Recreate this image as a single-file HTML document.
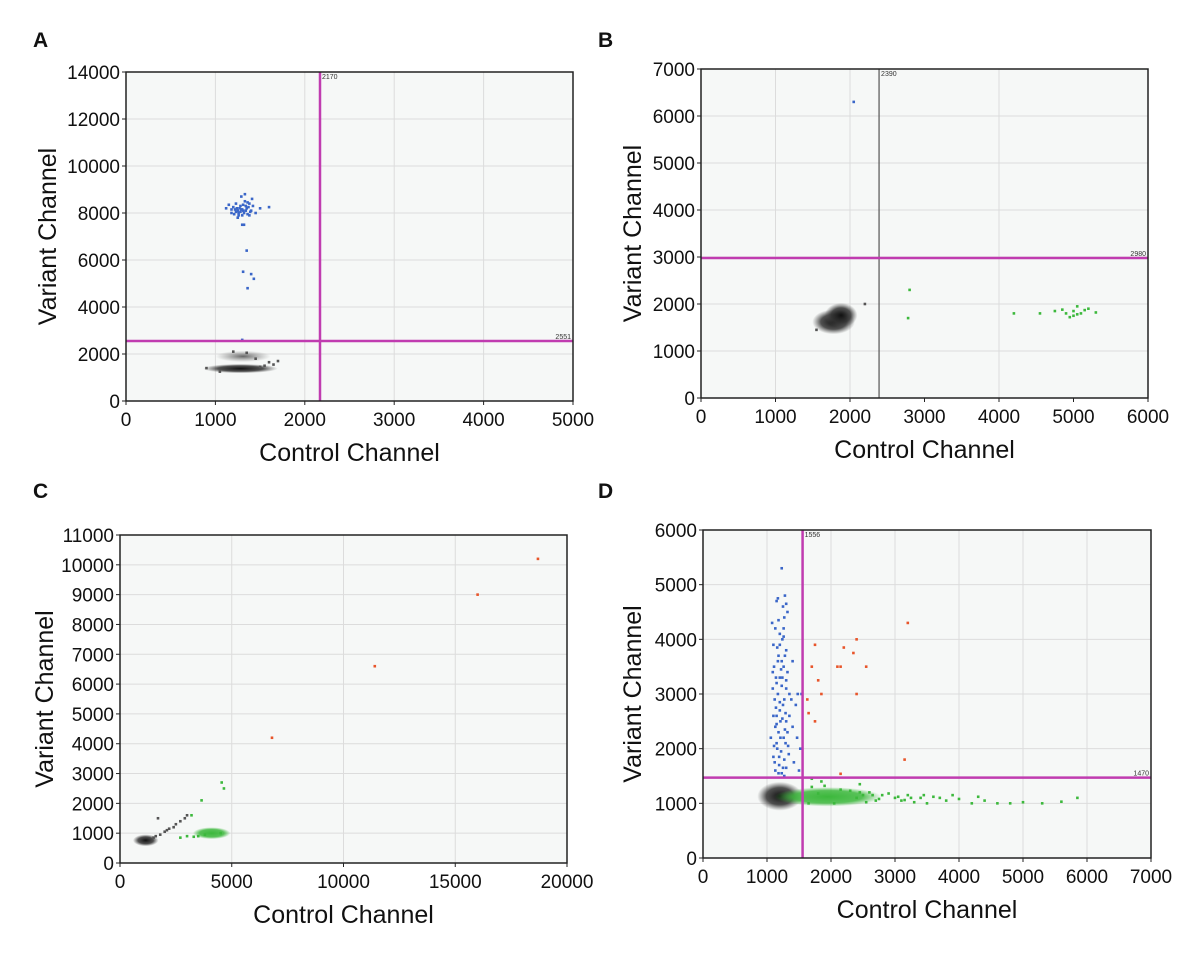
<!DOCTYPE html>
<html><head><meta charset="utf-8"><style>
html,body{margin:0;padding:0;background:#fff;}
svg{display:block;font-family:"Liberation Sans",sans-serif;}
</style></head><body>
<svg id="fig" width="1200" height="954" viewBox="0 0 1200 954">
<defs>
<radialGradient id="g-gray"><stop offset="0" stop-color="#111" stop-opacity="1"/><stop offset="0.6" stop-color="#333" stop-opacity="0.85"/><stop offset="1" stop-color="#555" stop-opacity="0"/></radialGradient>
<radialGradient id="g-lgray"><stop offset="0" stop-color="#555" stop-opacity="0.9"/><stop offset="1" stop-color="#777" stop-opacity="0"/></radialGradient>
<radialGradient id="g-green"><stop offset="0" stop-color="#3cb83c" stop-opacity="1"/><stop offset="0.65" stop-color="#3cb83c" stop-opacity="0.85"/><stop offset="1" stop-color="#3cb83c" stop-opacity="0"/></radialGradient>
</defs>
</svg>
<script>
// ---- Panel A data ----
const aXTicks=[0,1000,2000,3000,4000,5000];
const aYTicks=[0,2000,4000,6000,8000,10000,12000,14000];
const aThreshX=2170, aThreshY=2551;
const aBlue=[[1300,8150],[1250,8100],[1350,8200],[1280,8300],[1320,8000],[1200,8250],[1400,8100],[1150,8350],[1380,8400],[1260,7900],[1330,8500],[1290,8700],[1420,8300],[1230,8050],[1360,7950],[1310,8350],[1270,8200],[1340,8100],[1450,8000],[1500,8200],[1600,8250],[1120,8200],[1180,8000],[1250,7800],[1300,7500],[1320,7500],[1380,7900],[1410,8600],[1330,8800],[1230,8400],[1350,6400],[1310,5500],[1400,5400],[1430,5200],[1360,4800],[1290,8150],[1370,8250],[1240,8200],[1310,8100],[1280,8050],[1300,2600],[1220,8150],[1340,8300],[1260,8000],[1390,8050],[1300,7900],[1210,7950],[1360,8450],[1180,8150]];
const aBlobs=[[1280,1380,190,90,'g-gray'],[1310,1900,140,110,'g-lgray']];
const aGray=[[1550,1500],[1600,1650],[1700,1700],[1650,1550],[1500,1450],[900,1400],[1050,1250],[1450,1800],[1200,2100],[1350,2050]];
// ---- Panel B data ----
const bXTicks=[0,1000,2000,3000,4000,5000,6000];
const bXGrid=[1000,2000,4000];
const bYTicks=[0,1000,2000,3000,4000,5000,6000,7000];
const bThreshX=2390, bThreshY=2980;
const bBlobs=[[1780,1620,130,120,'g-gray'],[1880,1760,100,120,'g-gray']];
const bGreen=[[2800,2300],[2780,1700],[4200,1800],[4550,1800],[4750,1850],[4850,1880],[4900,1800],[5000,1850],[5050,1950],[5000,1750],[5100,1800],[5150,1870],[5200,1900],[5300,1820],[4950,1720],[5050,1780]];
const bBlue=[[2050,6300]];
const bGray=[[2200,2000],[1550,1450]];
// ---- Panel C data ----
const cXTicks=[0,5000,10000,15000,20000];
const cYTicks=[0,1000,2000,3000,4000,5000,6000,7000,8000,9000,10000,11000];
const cBlobs=[[1150,760,260,90,'g-gray'],[4100,1000,380,90,'g-green']];
const cGray=[[1500,850],[1800,950],[2000,1050],[2200,1150],[2500,1300],[2700,1400],[2900,1500],[1700,1500],[3000,1600],[2400,1200],[1600,900],[2100,1100]];
const cGreen=[[2700,850],[3000,900],[3300,880],[3500,900],[3200,1600],[3650,2100],[4550,2700],[4650,2500],[3800,950],[4500,1000]];
const cOrange=[[6800,4200],[11400,6600],[16000,9000],[18700,10200]];
// ---- Panel D data ----
const dXTicks=[0,1000,2000,3000,4000,5000,6000,7000];
const dYTicks=[0,1000,2000,3000,4000,5000,6000];
const dThreshX=1556, dThreshY=1470;
const dBlobs=[[1200,1130,160,120,'g-gray'],[1950,1120,380,80,'g-green']];
const dBlue=[[1230,5300],[1150,4700],[1170,4750],[1280,4800],[1320,4500],[1250,4600],[1270,4400],[1080,4300],[1130,4200],[1200,4100],[1100,3900],[1240,4000],[1300,3800],[1400,3600],[1180,3700],[1260,3500],[1090,3400],[1200,3300],[1150,3200],[1300,3100],[1350,3000],[1120,2900],[1250,2800],[1200,2700],[1100,2600],[1300,2500],[1400,2400],[1180,2300],[1260,2200],[1150,2100],[1330,2050],[1220,1950],[1100,1850],[1270,1800],[1420,1750],[1190,1700],[1300,1650],[1130,1600],[1230,1550],[1500,1600],[1480,3000],[1470,2200],[1450,2800],[1520,2000],[1540,3000],[1060,2200],[1170,3600],[1240,3300],[1210,2500],[1160,2000],[1290,2650],[1320,3400],[1090,3100],[1380,2900],[1340,1900],[1120,1750],[1260,4200],[1200,3900],[1150,2450],[1280,2350],
[1110,3500],[1230,3600],[1170,3000],[1270,2900],[1140,2750],[1210,2200],[1290,2100],[1130,2400],[1250,1650],[1180,1550],[1300,3250],[1220,3450],[1160,3850],[1280,3700],[1200,2850],[1150,2600],[1240,2550],[1320,2300],[1190,1850],[1270,1500],[1110,2050],[1350,2600],[1230,3150],[1140,3300],[1260,4050],[1180,4350],[1300,4650]];
const dGreen=[[1700,1300],[1900,1320],[2150,1250],[2600,1200],[2800,1150],[3000,1100],[3200,1150],[3400,1100],[3600,1120],[3800,1050],[4000,1080],[4200,1000],[4400,1050],[4600,1000],[4800,1000],[5000,1020],[5300,1000],[5600,1030],[5850,1100],[2400,1100],[2700,1050],[3100,1050],[3500,1000],[3900,1150],[4300,1120],[2300,1230],[2500,1150],[3300,1020],[1800,1180],[2650,1150],[2750,1080],[2900,1180],[3050,1120],[3150,1060],[3250,1100],[3450,1150],[3700,1100],[2550,1020],[2450,1200],[1700,1450],[1850,1400],[2450,1350],[1650,1000],[2050,1000]];
const dOrange=[[1700,3500],[1850,3000],[2200,3850],[1750,3900],[2100,3500],[2150,3500],[2400,3000],[2550,3500],[2350,3750],[2400,4000],[3200,4300],[1630,2900],[1650,2650],[1750,2500],[3150,1800],[2150,1540],[1800,3250]];

const NS='http://www.w3.org/2000/svg';
const svg=document.getElementById('fig');
function mk(tag,attrs,parent){const e=document.createElementNS(NS,tag);for(const k in attrs)e.setAttribute(k,attrs[k]);(parent||svg).appendChild(e);return e;}

function panel(o){
  const g=mk('g',{});
  
  
  const sx=v=>o.x0+(v-o.xmin)/(o.xmax-o.xmin)*(o.x1-o.x0);
  const sy=v=>o.y1-(v-o.ymin)/(o.ymax-o.ymin)*(o.y1-o.y0);
  const bg=mk('rect',{x:o.x0,y:o.y0,width:o.x1-o.x0,height:o.y1-o.y0,fill:'#f6f8f7'},g);
  
  
  (o.xGrid||o.xTicks).forEach(v=>{if(v>o.xmin&&v<o.xmax){const l=mk('line',{x1:sx(v),x2:sx(v),y1:o.y0,y2:o.y1,stroke:'#dcdcdc','stroke-width':1},g);}});
  o.yTicks.forEach(v=>{if(v>o.ymin&&v<o.ymax){const l=mk('line',{x1:o.x0,x2:o.x1,y1:sy(v),y2:sy(v),stroke:'#dcdcdc','stroke-width':1},g);}});
  (o.blobs||[]).forEach(b=>{const e=mk('ellipse',{cx:sx(b[0]),cy:sy(b[1]),rx:Math.abs(sx(b[2]*2.2)-sx(0)),ry:Math.abs(sy(b[3]*2.2)-sy(0)),fill:'url(#'+b[4]+')'},g);});
  const pts=(arr,col,name)=>(arr||[]).forEach(p=>{const r=mk('rect',{x:sx(p[0])-1.3,y:sy(p[1])-1.3,width:2.6,height:2.6,fill:col},g);});
  pts(o.gray,'#555','droplet-negative');
  pts(o.blue,'#3a66c8','droplet-variant');
  pts(o.green,'#3cb83c','droplet-control');
  pts(o.orange,'#e8552a','droplet-double-positive');
  if(o.tx!==undefined){const l=mk('line',{x1:sx(o.tx),x2:sx(o.tx),y1:o.y0,y2:o.y1,stroke:o.txColor||'#c03cb0','stroke-width':o.txW||2.5},g);
    const t=mk('text',{x:sx(o.tx)+2,y:o.y0+7,'font-size':7,fill:'#333'},g);t.textContent=o.txLabel;}
  if(o.ty!==undefined){const l=mk('line',{x1:o.x0,x2:o.x1,y1:sy(o.ty),y2:sy(o.ty),stroke:'#c03cb0','stroke-width':2.5},g);
    const t=mk('text',{x:o.x1-2,y:sy(o.ty)-2,'font-size':7,fill:'#333','text-anchor':'end'},g);t.textContent=o.tyLabel;}
  const fr=mk('rect',{x:o.x0,y:o.y0,width:o.x1-o.x0,height:o.y1-o.y0,fill:'none',stroke:'#222','stroke-width':1.5},g);
  
  o.xTicks.forEach(v=>{const t=mk('text',{x:sx(v),y:o.y1+25,'font-size':19,'text-anchor':'middle',fill:'#111'},g);t.textContent=v;
    mk('line',{x1:sx(v),x2:sx(v),y1:o.y1,y2:o.y1+4,stroke:'#222'},g);});
  o.yTicks.forEach(v=>{const t=mk('text',{x:o.x0-6,y:sy(v)+7,'font-size':19,'text-anchor':'end',fill:'#111'},g);t.textContent=v;
    mk('line',{x1:o.x0-4,x2:o.x0,y1:sy(v),y2:sy(v),stroke:'#222'},g);});
  const xt=mk('text',{x:(o.x0+o.x1)/2,y:o.y1+60,'font-size':25,'text-anchor':'middle',fill:'#111'},g);xt.textContent='Control Channel';
  const yx=o.ytX, yy=(o.y0+o.y1)/2;
  const yt=mk('text',{x:yx,y:yy,'font-size':25,'text-anchor':'middle',fill:'#111',transform:'rotate(-90 '+yx+' '+yy+')'},g);yt.textContent='Variant Channel';
  const pl=mk('text',{x:o.lx,y:o.ly,'font-size':21,'font-weight':'bold',fill:'#111'},g);pl.textContent=o.id;
}

panel({id:'A',x0:126,x1:573,y0:72,y1:401,xmin:0,xmax:5000,ymin:0,ymax:14000,xTicks:aXTicks,yTicks:aYTicks,blobs:aBlobs,gray:aGray,blue:aBlue,tx:aThreshX,ty:aThreshY,txLabel:'2170',tyLabel:'2551',ytX:56,lx:33,ly:47});
panel({id:'B',x0:701,x1:1148,y0:69,y1:398,xmin:0,xmax:6000,ymin:0,ymax:7000,xTicks:bXTicks,xGrid:bXGrid,yTicks:bYTicks,blobs:bBlobs,gray:bGray,green:bGreen,blue:bBlue,tx:bThreshX,ty:bThreshY,txColor:'#555',txW:1.2,txLabel:'2390',tyLabel:'2980',ytX:641,lx:598,ly:47});
panel({id:'C',x0:120,x1:567,y0:535,y1:863,xmin:0,xmax:20000,ymin:0,ymax:11000,xTicks:cXTicks,yTicks:cYTicks,blobs:cBlobs,gray:cGray,green:cGreen,orange:cOrange,ytX:53,lx:33,ly:498});
panel({id:'D',x0:703,x1:1151,y0:530,y1:858,xmin:0,xmax:7000,ymin:0,ymax:6000,xTicks:dXTicks,yTicks:dYTicks,blobs:dBlobs,blue:dBlue,green:dGreen,orange:dOrange,tx:dThreshX,ty:dThreshY,txLabel:'1556',tyLabel:'1470',ytX:641,lx:598,ly:498});
</script>
</body></html>
